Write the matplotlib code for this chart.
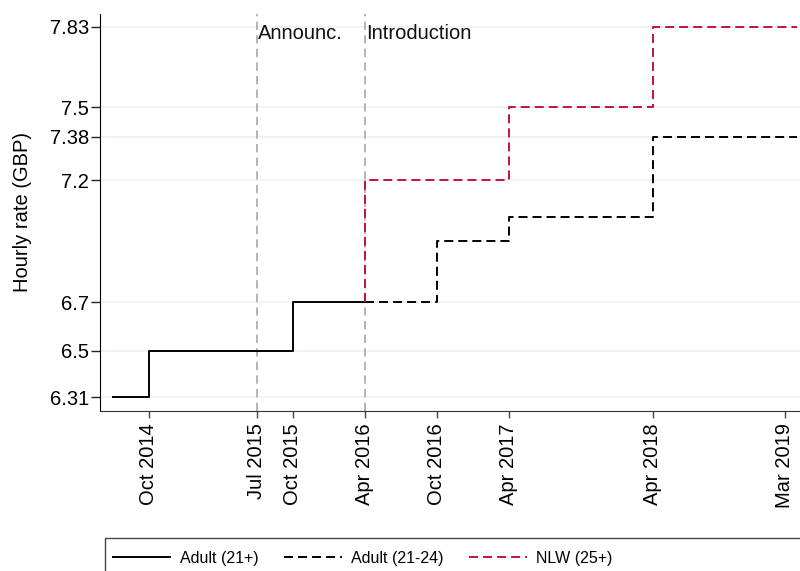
import matplotlib
matplotlib.use("Agg")
import matplotlib.pyplot as plt
from matplotlib.patches import Rectangle
from matplotlib.transforms import blended_transform_factory

plt.rcParams['font.family'] = ['Liberation Sans', 'DejaVu Sans']
plt.rcParams['lines.scale_dashes'] = False

# minimum wage steps (month of change, hourly rate in GBP)
adult_months = ["2014-07", "2014-10", "2015-10", "2016-04"]
adult_rates = [6.31, 6.50, 6.70, 6.70]

young_months = ["2016-04", "2016-10", "2017-04", "2018-04", "2019-04"]
young_rates = [6.70, 6.95, 7.05, 7.38, 7.38]

nlw_months = ["2016-04", "2016-04", "2017-04", "2018-04", "2019-04"]
nlw_rates = [6.70, 7.20, 7.50, 7.83, 7.83]

event_months = ["2015-07", "2016-04"]
event_labels = ["Announc.", "Introduction"]

tick_months = ["2014-10", "2015-07", "2015-10", "2016-04", "2016-10",
               "2017-04", "2018-04", "2019-03"]
ytick_values = [6.31, 6.5, 6.7, 7.2, 7.38, 7.5, 7.83]
ytick_labels = ["6.31", "6.5", "6.7", "7.2", "7.38", "7.5", "7.83"]

MONTHS = ["Jan", "Feb", "Mar", "Apr", "May", "Jun",
          "Jul", "Aug", "Sep", "Oct", "Nov", "Dec"]


def month_index(s):
    y, m = s.split("-")
    return (int(y) - 2014) * 12 + int(m) - 1


def month_label(s):
    y, m = s.split("-")
    return f"{MONTHS[int(m) - 1]} {y}"


W, H = 800, 571
fig = plt.figure(figsize=(W / 100, H / 100), dpi=100)
ax = fig.add_axes([100 / W, 1 - 411 / H, 700 / W, 397 / H])

ax.set_xlim(4.917, 63.25)
ax.set_ylim(6.2525, 7.8834)

for v in ytick_values:
    ax.axhline(v, color="#eaf0f2", lw=1.1, zorder=0)

red = "#c8103c"
dash = (6.5, 3.6)

for m, lab in zip(event_months, event_labels):
    x = month_index(m)
    ax.axvline(x, color="#a0a0a0", lw=1.1, dashes=(6, 3.8), zorder=1)
    ax.text(x + 0.12, 0.952, lab, transform=blended_transform_factory(ax.transData, ax.transAxes),
            fontsize=14.5, va="center", ha="left", color="#111111")

ax.step([month_index(m) for m in adult_months], adult_rates, where="post",
        color="black", lw=1.4, label="Adult (21+)", zorder=3)
ax.step([month_index(m) for m in young_months], young_rates, where="post",
        color="black", lw=1.4, dashes=dash, label="Adult (21-24)", zorder=3)
ax.step([month_index(m) for m in nlw_months], nlw_rates, where="post",
        color=red, lw=1.4, dashes=dash, label="NLW (25+)", zorder=4)

ax.set_xticks([month_index(m) for m in tick_months])
ax.set_xticklabels([month_label(m) for m in tick_months], rotation=90, fontsize=14.5)
ax.set_yticks(ytick_values)
ax.set_yticklabels(ytick_labels, fontsize=14.5)
ax.tick_params(axis="x", length=5, width=1, pad=4, color="#444444")
ax.tick_params(axis="y", length=6.5, width=1, pad=1.5, color="#222222")

ax.set_ylabel("Hourly rate (GBP)", fontsize=14.5, labelpad=13)

for side in ("top", "right"):
    ax.spines[side].set_visible(False)
ax.spines["left"].set_color("black")
ax.spines["bottom"].set_color("#333333")

# legend box runs across the bottom of the figure
fig.patches.append(Rectangle((105 / W, -0.05), 0.95, 1 - 538 / H + 0.05,
                             transform=fig.transFigure, fill=False,
                             edgecolor="#444444", lw=1.0))
fig.legend(loc="center left", bbox_to_anchor=(113 / W, 1 - 558 / H), ncol=3,
           frameon=False, fontsize=11.5, handlelength=3.6, handletextpad=0.6,
           columnspacing=1.6, borderpad=0, borderaxespad=0)

fig.savefig("out.png", dpi=100)
